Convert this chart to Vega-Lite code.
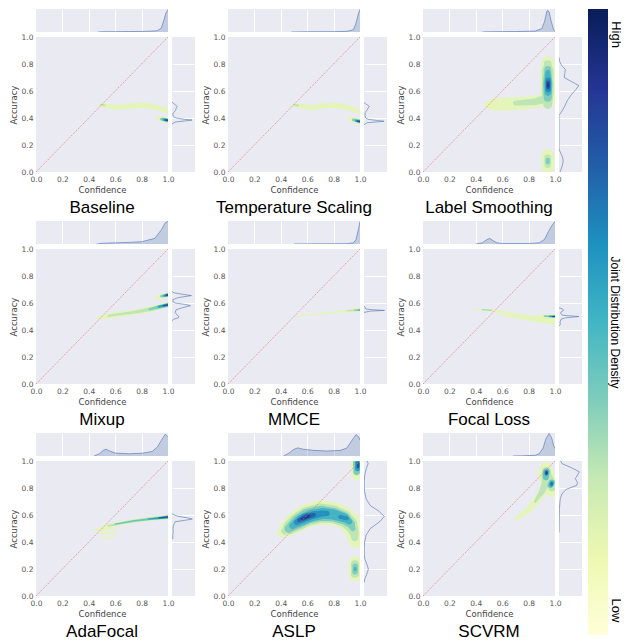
{
"$schema": "https://vega.github.io/schema/vega-lite/v6.json",
"background": "white",
"padding": {"left": 9, "top": 9, "right": 0, "bottom": 0},
"config": {
  "view": {"fill": "#EAEAF2", "stroke": null},
  "axis": {"labelFont": "DejaVu Sans", "labelFontSize": 7.5, "labelColor": "#555555", "titleFont": "DejaVu Sans", "titleFontSize": 8.5, "titleFontWeight": "normal", "titleColor": "#444444", "grid": false, "ticks": false, "domain": false, "labelFlush": false, "labelOverlap": false, "labelPadding": 3, "titlePadding": 3}
},
"datasets": {
"kde": [
{"p":"Baseline","s":"1","l":0.05,"o":1,"c":0.48,"a":0.497,"w":0.02},
{"p":"Baseline","s":"1","l":0.05,"o":2,"c":0.53,"a":0.49,"w":0.035},
{"p":"Baseline","s":"1","l":0.05,"o":3,"c":0.62,"a":0.478,"w":0.038},
{"p":"Baseline","s":"1","l":0.05,"o":4,"c":0.72,"a":0.49,"w":0.04},
{"p":"Baseline","s":"1","l":0.05,"o":5,"c":0.8,"a":0.496,"w":0.042},
{"p":"Baseline","s":"1","l":0.05,"o":6,"c":0.9,"a":0.482,"w":0.04},
{"p":"Baseline","s":"1","l":0.05,"o":7,"c":0.97,"a":0.462,"w":0.035},
{"p":"Baseline","s":"1","l":0.05,"o":8,"c":1.0,"a":0.452,"w":0.03},
{"p":"Baseline","s":"3","l":0.05,"o":1,"c":0.92,"a":0.402,"w":0.025},
{"p":"Baseline","s":"3","l":0.05,"o":2,"c":0.95,"a":0.395,"w":0.04},
{"p":"Baseline","s":"3","l":0.05,"o":3,"c":0.98,"a":0.387,"w":0.042},
{"p":"Baseline","s":"3","l":0.05,"o":4,"c":1.0,"a":0.383,"w":0.04},
{"p":"Baseline","s":"2","l":0.2,"o":1,"c":0.49,"a":0.498,"w":0.012},
{"p":"Baseline","s":"2","l":0.2,"o":2,"c":0.52,"a":0.494,"w":0.016},
{"p":"Baseline","s":"4","l":0.35,"o":1,"c":0.95,"a":0.392,"w":0.02},
{"p":"Baseline","s":"4","l":0.35,"o":2,"c":0.98,"a":0.386,"w":0.028},
{"p":"Baseline","s":"4","l":0.35,"o":3,"c":1.0,"a":0.383,"w":0.028},
{"p":"Baseline","s":"5","l":0.6,"o":1,"c":0.965,"a":0.388,"w":0.015},
{"p":"Baseline","s":"5","l":0.6,"o":2,"c":1.0,"a":0.383,"w":0.02},
{"p":"Baseline","s":"6","l":0.9,"o":1,"c":0.98,"a":0.385,"w":0.01},
{"p":"Baseline","s":"6","l":0.9,"o":2,"c":1.0,"a":0.383,"w":0.012},

{"p":"Temperature Scaling","s":"1","l":0.05,"o":1,"c":0.49,"a":0.497,"w":0.02},
{"p":"Temperature Scaling","s":"1","l":0.05,"o":2,"c":0.54,"a":0.49,"w":0.035},
{"p":"Temperature Scaling","s":"1","l":0.05,"o":3,"c":0.63,"a":0.477,"w":0.038},
{"p":"Temperature Scaling","s":"1","l":0.05,"o":4,"c":0.72,"a":0.49,"w":0.04},
{"p":"Temperature Scaling","s":"1","l":0.05,"o":5,"c":0.79,"a":0.495,"w":0.04},
{"p":"Temperature Scaling","s":"1","l":0.05,"o":6,"c":0.88,"a":0.485,"w":0.04},
{"p":"Temperature Scaling","s":"1","l":0.05,"o":7,"c":0.95,"a":0.465,"w":0.035},
{"p":"Temperature Scaling","s":"1","l":0.05,"o":8,"c":1.0,"a":0.44,"w":0.03},
{"p":"Temperature Scaling","s":"3","l":0.05,"o":1,"c":0.92,"a":0.395,"w":0.025},
{"p":"Temperature Scaling","s":"3","l":0.05,"o":2,"c":0.96,"a":0.385,"w":0.04},
{"p":"Temperature Scaling","s":"3","l":0.05,"o":3,"c":1.0,"a":0.373,"w":0.04},
{"p":"Temperature Scaling","s":"2","l":0.2,"o":1,"c":0.5,"a":0.498,"w":0.012},
{"p":"Temperature Scaling","s":"2","l":0.2,"o":2,"c":0.53,"a":0.494,"w":0.016},
{"p":"Temperature Scaling","s":"4","l":0.35,"o":1,"c":0.95,"a":0.386,"w":0.02},
{"p":"Temperature Scaling","s":"4","l":0.35,"o":2,"c":1.0,"a":0.374,"w":0.028},
{"p":"Temperature Scaling","s":"5","l":0.6,"o":1,"c":0.97,"a":0.38,"w":0.015},
{"p":"Temperature Scaling","s":"5","l":0.6,"o":2,"c":1.0,"a":0.374,"w":0.02},
{"p":"Temperature Scaling","s":"6","l":0.9,"o":1,"c":0.98,"a":0.377,"w":0.01},
{"p":"Temperature Scaling","s":"6","l":0.9,"o":2,"c":1.0,"a":0.374,"w":0.012},

{"p":"Label Smoothing","s":"1","l":0.05,"o":1,"c":0.49,"a":0.495,"w":0.05},
{"p":"Label Smoothing","s":"1","l":0.05,"o":2,"c":0.53,"a":0.5,"w":0.085},
{"p":"Label Smoothing","s":"1","l":0.05,"o":3,"c":0.62,"a":0.503,"w":0.095},
{"p":"Label Smoothing","s":"1","l":0.05,"o":4,"c":0.72,"a":0.508,"w":0.095},
{"p":"Label Smoothing","s":"1","l":0.05,"o":5,"c":0.82,"a":0.515,"w":0.09},
{"p":"Label Smoothing","s":"1","l":0.05,"o":6,"c":0.9,"a":0.53,"w":0.09},
{"p":"Label Smoothing","s":"1","l":0.05,"o":7,"c":0.94,"a":0.56,"w":0.09},
{"p":"Label Smoothing","s":"2","l":0.05,"o":1,"c":0.945,"a":0.52,"w":0.1},
{"p":"Label Smoothing","s":"2","l":0.05,"o":2,"c":0.945,"a":0.6,"w":0.11},
{"p":"Label Smoothing","s":"2","l":0.05,"o":3,"c":0.945,"a":0.7,"w":0.11},
{"p":"Label Smoothing","s":"2","l":0.05,"o":4,"c":0.945,"a":0.8,"w":0.1},
{"p":"Label Smoothing","s":"2","l":0.05,"o":5,"c":0.945,"a":0.815,"w":0.085},
{"p":"Label Smoothing","s":"3","l":0.05,"o":1,"c":0.945,"a":0.035,"w":0.09},
{"p":"Label Smoothing","s":"3","l":0.05,"o":2,"c":0.945,"a":0.125,"w":0.09},
{"p":"Label Smoothing","s":"4","l":0.2,"o":1,"c":0.7,"a":0.51,"w":0.035},
{"p":"Label Smoothing","s":"4","l":0.2,"o":2,"c":0.85,"a":0.52,"w":0.05},
{"p":"Label Smoothing","s":"4","l":0.2,"o":3,"c":0.92,"a":0.54,"w":0.06},
{"p":"Label Smoothing","s":"5","l":0.2,"o":1,"c":0.945,"a":0.5,"w":0.065},
{"p":"Label Smoothing","s":"5","l":0.2,"o":2,"c":0.945,"a":0.6,"w":0.09},
{"p":"Label Smoothing","s":"5","l":0.2,"o":3,"c":0.945,"a":0.75,"w":0.085},
{"p":"Label Smoothing","s":"5","l":0.2,"o":4,"c":0.945,"a":0.8,"w":0.055},
{"p":"Label Smoothing","s":"6","l":0.2,"o":1,"c":0.945,"a":0.055,"w":0.05},
{"p":"Label Smoothing","s":"6","l":0.2,"o":2,"c":0.945,"a":0.105,"w":0.05},
{"p":"Label Smoothing","s":"7","l":0.35,"o":1,"c":0.945,"a":0.55,"w":0.06},
{"p":"Label Smoothing","s":"7","l":0.35,"o":2,"c":0.945,"a":0.65,"w":0.07},
{"p":"Label Smoothing","s":"7","l":0.35,"o":3,"c":0.945,"a":0.76,"w":0.05},
{"p":"Label Smoothing","s":"8","l":0.35,"o":1,"c":0.945,"a":0.07,"w":0.03},
{"p":"Label Smoothing","s":"8","l":0.35,"o":2,"c":0.945,"a":0.09,"w":0.03},
{"p":"Label Smoothing","s":"9","l":0.5,"o":1,"c":0.947,"a":0.59,"w":0.05},
{"p":"Label Smoothing","s":"9","l":0.5,"o":2,"c":0.947,"a":0.66,"w":0.055},
{"p":"Label Smoothing","s":"9","l":0.5,"o":3,"c":0.945,"a":0.74,"w":0.035},
{"p":"Label Smoothing","s":"10","l":0.65,"o":1,"c":0.948,"a":0.61,"w":0.04},
{"p":"Label Smoothing","s":"10","l":0.65,"o":2,"c":0.948,"a":0.68,"w":0.04},
{"p":"Label Smoothing","s":"11","l":0.8,"o":1,"c":0.948,"a":0.625,"w":0.03},
{"p":"Label Smoothing","s":"11","l":0.8,"o":2,"c":0.948,"a":0.665,"w":0.03},
{"p":"Label Smoothing","s":"12","l":0.95,"o":1,"c":0.948,"a":0.635,"w":0.018},
{"p":"Label Smoothing","s":"12","l":0.95,"o":2,"c":0.948,"a":0.655,"w":0.018},

{"p":"Mixup","s":"1","l":0.05,"o":1,"c":0.47,"a":0.49,"w":0.02},
{"p":"Mixup","s":"1","l":0.05,"o":2,"c":0.52,"a":0.5,"w":0.035},
{"p":"Mixup","s":"1","l":0.05,"o":3,"c":0.62,"a":0.515,"w":0.04},
{"p":"Mixup","s":"1","l":0.05,"o":4,"c":0.72,"a":0.527,"w":0.04},
{"p":"Mixup","s":"1","l":0.05,"o":5,"c":0.8,"a":0.54,"w":0.04},
{"p":"Mixup","s":"1","l":0.05,"o":6,"c":0.9,"a":0.562,"w":0.042},
{"p":"Mixup","s":"1","l":0.05,"o":7,"c":0.96,"a":0.578,"w":0.042},
{"p":"Mixup","s":"1","l":0.05,"o":8,"c":1.0,"a":0.587,"w":0.042},
{"p":"Mixup","s":"2","l":0.05,"o":1,"c":0.91,"a":0.638,"w":0.025},
{"p":"Mixup","s":"2","l":0.05,"o":2,"c":0.95,"a":0.648,"w":0.035},
{"p":"Mixup","s":"2","l":0.05,"o":3,"c":1.0,"a":0.66,"w":0.04},
{"p":"Mixup","s":"3","l":0.2,"o":1,"c":0.55,"a":0.505,"w":0.015},
{"p":"Mixup","s":"3","l":0.2,"o":2,"c":0.75,"a":0.532,"w":0.02},
{"p":"Mixup","s":"3","l":0.2,"o":3,"c":0.88,"a":0.557,"w":0.028},
{"p":"Mixup","s":"3","l":0.2,"o":4,"c":1.0,"a":0.587,"w":0.032},
{"p":"Mixup","s":"4","l":0.35,"o":1,"c":0.86,"a":0.553,"w":0.015},
{"p":"Mixup","s":"4","l":0.35,"o":2,"c":0.94,"a":0.573,"w":0.025},
{"p":"Mixup","s":"4","l":0.35,"o":3,"c":1.0,"a":0.587,"w":0.028},
{"p":"Mixup","s":"5","l":0.35,"o":1,"c":0.95,"a":0.65,"w":0.02},
{"p":"Mixup","s":"5","l":0.35,"o":2,"c":1.0,"a":0.66,"w":0.027},
{"p":"Mixup","s":"6","l":0.6,"o":1,"c":0.93,"a":0.572,"w":0.015},
{"p":"Mixup","s":"6","l":0.6,"o":2,"c":1.0,"a":0.586,"w":0.02},
{"p":"Mixup","s":"7","l":0.6,"o":1,"c":0.97,"a":0.654,"w":0.015},
{"p":"Mixup","s":"7","l":0.6,"o":2,"c":1.0,"a":0.66,"w":0.02},
{"p":"Mixup","s":"8","l":0.85,"o":1,"c":0.965,"a":0.58,"w":0.01},
{"p":"Mixup","s":"8","l":0.85,"o":2,"c":1.0,"a":0.586,"w":0.013},
{"p":"Mixup","s":"9","l":0.9,"o":1,"c":0.985,"a":0.656,"w":0.01},
{"p":"Mixup","s":"9","l":0.9,"o":2,"c":1.0,"a":0.66,"w":0.012},

{"p":"MMCE","s":"1","l":0.05,"o":1,"c":0.52,"a":0.504,"w":0.01},
{"p":"MMCE","s":"1","l":0.05,"o":2,"c":0.7,"a":0.52,"w":0.012},
{"p":"MMCE","s":"1","l":0.05,"o":3,"c":0.85,"a":0.535,"w":0.015},
{"p":"MMCE","s":"1","l":0.05,"o":4,"c":0.93,"a":0.543,"w":0.02},
{"p":"MMCE","s":"1","l":0.05,"o":5,"c":0.97,"a":0.548,"w":0.03},
{"p":"MMCE","s":"1","l":0.05,"o":6,"c":1.0,"a":0.552,"w":0.035},
{"p":"MMCE","s":"2","l":0.2,"o":1,"c":0.9,"a":0.542,"w":0.008},
{"p":"MMCE","s":"2","l":0.2,"o":2,"c":0.96,"a":0.547,"w":0.015},
{"p":"MMCE","s":"2","l":0.2,"o":3,"c":1.0,"a":0.55,"w":0.02},
{"p":"MMCE","s":"3","l":0.35,"o":1,"c":0.96,"a":0.547,"w":0.008},
{"p":"MMCE","s":"3","l":0.35,"o":2,"c":1.0,"a":0.548,"w":0.012},
{"p":"MMCE","s":"4","l":0.5,"o":1,"c":0.985,"a":0.547,"w":0.006},
{"p":"MMCE","s":"4","l":0.5,"o":2,"c":1.0,"a":0.547,"w":0.008},

{"p":"Focal Loss","s":"1","l":0.05,"o":1,"c":0.4,"a":0.555,"w":0.012},
{"p":"Focal Loss","s":"1","l":0.05,"o":2,"c":0.5,"a":0.547,"w":0.016},
{"p":"Focal Loss","s":"1","l":0.05,"o":3,"c":0.6,"a":0.532,"w":0.02},
{"p":"Focal Loss","s":"1","l":0.05,"o":4,"c":0.7,"a":0.515,"w":0.02},
{"p":"Focal Loss","s":"1","l":0.05,"o":5,"c":0.8,"a":0.5,"w":0.02},
{"p":"Focal Loss","s":"1","l":0.05,"o":6,"c":0.9,"a":0.49,"w":0.025},
{"p":"Focal Loss","s":"1","l":0.05,"o":7,"c":1.0,"a":0.478,"w":0.03},
{"p":"Focal Loss","s":"2","l":0.05,"o":1,"c":0.6,"a":0.51,"w":0.01},
{"p":"Focal Loss","s":"2","l":0.05,"o":2,"c":0.75,"a":0.49,"w":0.02},
{"p":"Focal Loss","s":"2","l":0.05,"o":3,"c":0.88,"a":0.47,"w":0.03},
{"p":"Focal Loss","s":"2","l":0.05,"o":4,"c":1.0,"a":0.455,"w":0.035},
{"p":"Focal Loss","s":"3","l":0.05,"o":1,"c":0.88,"a":0.507,"w":0.02},
{"p":"Focal Loss","s":"3","l":0.05,"o":2,"c":0.94,"a":0.505,"w":0.025},
{"p":"Focal Loss","s":"3","l":0.05,"o":3,"c":1.0,"a":0.502,"w":0.03},
{"p":"Focal Loss","s":"4","l":0.3,"o":1,"c":0.45,"a":0.55,"w":0.008},
{"p":"Focal Loss","s":"4","l":0.3,"o":2,"c":0.52,"a":0.546,"w":0.008},
{"p":"Focal Loss","s":"5","l":0.35,"o":1,"c":0.92,"a":0.503,"w":0.012},
{"p":"Focal Loss","s":"5","l":0.35,"o":2,"c":1.0,"a":0.5,"w":0.02},
{"p":"Focal Loss","s":"6","l":0.6,"o":1,"c":0.96,"a":0.501,"w":0.01},
{"p":"Focal Loss","s":"6","l":0.6,"o":2,"c":1.0,"a":0.5,"w":0.014},
{"p":"Focal Loss","s":"7","l":0.9,"o":1,"c":0.98,"a":0.5,"w":0.007},
{"p":"Focal Loss","s":"7","l":0.9,"o":2,"c":1.0,"a":0.5,"w":0.009},

{"p":"AdaFocal","s":"1","l":0.05,"o":1,"c":0.46,"a":0.487,"w":0.02},
{"p":"AdaFocal","s":"1","l":0.05,"o":2,"c":0.52,"a":0.508,"w":0.03},
{"p":"AdaFocal","s":"1","l":0.05,"o":3,"c":0.6,"a":0.528,"w":0.032},
{"p":"AdaFocal","s":"1","l":0.05,"o":4,"c":0.7,"a":0.55,"w":0.03},
{"p":"AdaFocal","s":"1","l":0.05,"o":5,"c":0.8,"a":0.564,"w":0.03},
{"p":"AdaFocal","s":"1","l":0.05,"o":6,"c":0.9,"a":0.574,"w":0.032},
{"p":"AdaFocal","s":"1","l":0.05,"o":7,"c":1.0,"a":0.585,"w":0.034},
{"p":"AdaFocal","s":"2","l":0.05,"o":1,"c":0.44,"a":0.487,"w":0.012},
{"p":"AdaFocal","s":"2","l":0.05,"o":2,"c":0.6,"a":0.49,"w":0.012},
{"p":"AdaFocal","s":"3","l":0.05,"o":1,"c":0.48,"a":0.463,"w":0.012},
{"p":"AdaFocal","s":"3","l":0.05,"o":2,"c":0.6,"a":0.466,"w":0.012},
{"p":"AdaFocal","s":"4","l":0.05,"o":1,"c":0.49,"a":0.428,"w":0.012},
{"p":"AdaFocal","s":"4","l":0.05,"o":2,"c":0.59,"a":0.432,"w":0.012},
{"p":"AdaFocal","s":"5","l":0.2,"o":1,"c":0.55,"a":0.52,"w":0.015},
{"p":"AdaFocal","s":"5","l":0.2,"o":2,"c":0.7,"a":0.55,"w":0.02},
{"p":"AdaFocal","s":"5","l":0.2,"o":3,"c":0.85,"a":0.57,"w":0.022},
{"p":"AdaFocal","s":"5","l":0.2,"o":4,"c":1.0,"a":0.585,"w":0.028},
{"p":"AdaFocal","s":"6","l":0.4,"o":1,"c":0.6,"a":0.532,"w":0.01},
{"p":"AdaFocal","s":"6","l":0.4,"o":2,"c":0.75,"a":0.557,"w":0.012},
{"p":"AdaFocal","s":"6","l":0.4,"o":3,"c":0.9,"a":0.574,"w":0.016},
{"p":"AdaFocal","s":"6","l":0.4,"o":4,"c":1.0,"a":0.585,"w":0.022},
{"p":"AdaFocal","s":"7","l":0.6,"o":1,"c":0.85,"a":0.57,"w":0.008},
{"p":"AdaFocal","s":"7","l":0.6,"o":2,"c":0.93,"a":0.577,"w":0.013},
{"p":"AdaFocal","s":"7","l":0.6,"o":3,"c":1.0,"a":0.585,"w":0.017},
{"p":"AdaFocal","s":"8","l":0.85,"o":1,"c":0.93,"a":0.578,"w":0.008},
{"p":"AdaFocal","s":"8","l":0.85,"o":2,"c":1.0,"a":0.585,"w":0.012},

{"p":"ASLP","s":"1","l":0.05,"o":1,"c":0.41,"a":0.47,"w":0.07},
{"p":"ASLP","s":"1","l":0.05,"o":2,"c":0.45,"a":0.5,"w":0.12},
{"p":"ASLP","s":"1","l":0.05,"o":3,"c":0.52,"a":0.55,"w":0.16},
{"p":"ASLP","s":"1","l":0.05,"o":4,"c":0.6,"a":0.595,"w":0.17},
{"p":"ASLP","s":"1","l":0.05,"o":5,"c":0.7,"a":0.62,"w":0.18},
{"p":"ASLP","s":"1","l":0.05,"o":6,"c":0.8,"a":0.61,"w":0.17},
{"p":"ASLP","s":"1","l":0.05,"o":7,"c":0.88,"a":0.58,"w":0.16},
{"p":"ASLP","s":"1","l":0.05,"o":8,"c":0.93,"a":0.53,"w":0.15},
{"p":"ASLP","s":"1","l":0.05,"o":9,"c":0.955,"a":0.46,"w":0.12},
{"p":"ASLP","s":"1","l":0.05,"o":10,"c":0.965,"a":0.4,"w":0.09},
{"p":"ASLP","s":"2","l":0.05,"o":1,"c":0.975,"a":0.9,"w":0.08},
{"p":"ASLP","s":"2","l":0.05,"o":2,"c":0.975,"a":0.99,"w":0.085},
{"p":"ASLP","s":"3","l":0.05,"o":1,"c":0.96,"a":0.15,"w":0.085},
{"p":"ASLP","s":"3","l":0.05,"o":2,"c":0.96,"a":0.25,"w":0.085},
{"p":"ASLP","s":"4","l":0.2,"o":1,"c":0.43,"a":0.48,"w":0.05},
{"p":"ASLP","s":"4","l":0.2,"o":2,"c":0.47,"a":0.51,"w":0.1},
{"p":"ASLP","s":"4","l":0.2,"o":3,"c":0.53,"a":0.55,"w":0.13},
{"p":"ASLP","s":"4","l":0.2,"o":4,"c":0.6,"a":0.59,"w":0.14},
{"p":"ASLP","s":"4","l":0.2,"o":5,"c":0.7,"a":0.615,"w":0.14},
{"p":"ASLP","s":"4","l":0.2,"o":6,"c":0.8,"a":0.605,"w":0.13},
{"p":"ASLP","s":"4","l":0.2,"o":7,"c":0.88,"a":0.575,"w":0.12},
{"p":"ASLP","s":"4","l":0.2,"o":8,"c":0.93,"a":0.53,"w":0.1},
{"p":"ASLP","s":"4","l":0.2,"o":9,"c":0.955,"a":0.47,"w":0.07},
{"p":"ASLP","s":"4","l":0.2,"o":10,"c":0.96,"a":0.43,"w":0.05},
{"p":"ASLP","s":"5","l":0.2,"o":1,"c":0.962,"a":0.165,"w":0.06},
{"p":"ASLP","s":"5","l":0.2,"o":2,"c":0.962,"a":0.235,"w":0.06},
{"p":"ASLP","s":"6","l":0.35,"o":1,"c":0.46,"a":0.5,"w":0.06},
{"p":"ASLP","s":"6","l":0.35,"o":2,"c":0.53,"a":0.55,"w":0.1},
{"p":"ASLP","s":"6","l":0.35,"o":3,"c":0.6,"a":0.59,"w":0.11},
{"p":"ASLP","s":"6","l":0.35,"o":4,"c":0.7,"a":0.613,"w":0.11},
{"p":"ASLP","s":"6","l":0.35,"o":5,"c":0.8,"a":0.603,"w":0.1},
{"p":"ASLP","s":"6","l":0.35,"o":6,"c":0.88,"a":0.575,"w":0.09},
{"p":"ASLP","s":"6","l":0.35,"o":7,"c":0.93,"a":0.535,"w":0.06},
{"p":"ASLP","s":"6","l":0.35,"o":8,"c":0.945,"a":0.5,"w":0.04},
{"p":"ASLP","s":"7","l":0.35,"o":1,"c":0.975,"a":0.92,"w":0.05},
{"p":"ASLP","s":"7","l":0.35,"o":2,"c":0.975,"a":0.99,"w":0.055},
{"p":"ASLP","s":"8","l":0.35,"o":1,"c":0.963,"a":0.18,"w":0.04},
{"p":"ASLP","s":"8","l":0.35,"o":2,"c":0.963,"a":0.22,"w":0.04},
{"p":"ASLP","s":"9","l":0.5,"o":1,"c":0.49,"a":0.52,"w":0.05},
{"p":"ASLP","s":"9","l":0.5,"o":2,"c":0.55,"a":0.56,"w":0.08},
{"p":"ASLP","s":"9","l":0.5,"o":3,"c":0.63,"a":0.595,"w":0.085},
{"p":"ASLP","s":"9","l":0.5,"o":4,"c":0.72,"a":0.612,"w":0.08},
{"p":"ASLP","s":"9","l":0.5,"o":5,"c":0.8,"a":0.603,"w":0.075},
{"p":"ASLP","s":"9","l":0.5,"o":6,"c":0.88,"a":0.58,"w":0.065},
{"p":"ASLP","s":"9","l":0.5,"o":7,"c":0.92,"a":0.55,"w":0.04},
{"p":"ASLP","s":"10","l":0.5,"o":1,"c":0.963,"a":0.195,"w":0.02},
{"p":"ASLP","s":"10","l":0.5,"o":2,"c":0.963,"a":0.205,"w":0.02},
{"p":"ASLP","s":"11","l":0.6,"o":1,"c":0.98,"a":0.94,"w":0.035},
{"p":"ASLP","s":"11","l":0.6,"o":2,"c":0.98,"a":0.985,"w":0.035},
{"p":"ASLP","s":"12","l":0.65,"o":1,"c":0.52,"a":0.545,"w":0.04},
{"p":"ASLP","s":"12","l":0.65,"o":2,"c":0.58,"a":0.58,"w":0.06},
{"p":"ASLP","s":"12","l":0.65,"o":3,"c":0.65,"a":0.6,"w":0.055},
{"p":"ASLP","s":"12","l":0.65,"o":4,"c":0.7,"a":0.61,"w":0.045},
{"p":"ASLP","s":"12","l":0.65,"o":5,"c":0.75,"a":0.612,"w":0.04},
{"p":"ASLP","s":"13","l":0.65,"o":1,"c":0.85,"a":0.585,"w":0.03},
{"p":"ASLP","s":"13","l":0.65,"o":2,"c":0.9,"a":0.575,"w":0.03},
{"p":"ASLP","s":"14","l":0.8,"o":1,"c":0.54,"a":0.56,"w":0.03},
{"p":"ASLP","s":"14","l":0.8,"o":2,"c":0.6,"a":0.59,"w":0.04},
{"p":"ASLP","s":"14","l":0.8,"o":3,"c":0.65,"a":0.6,"w":0.03},
{"p":"ASLP","s":"15","l":0.85,"o":1,"c":0.985,"a":0.955,"w":0.02},
{"p":"ASLP","s":"15","l":0.85,"o":2,"c":0.985,"a":0.98,"w":0.02},
{"p":"ASLP","s":"16","l":0.95,"o":1,"c":0.56,"a":0.57,"w":0.018},
{"p":"ASLP","s":"16","l":0.95,"o":2,"c":0.61,"a":0.592,"w":0.022},

{"p":"SCVRM","s":"1","l":0.05,"o":1,"c":0.7,"a":0.57,"w":0.02},
{"p":"SCVRM","s":"1","l":0.05,"o":2,"c":0.75,"a":0.6,"w":0.035},
{"p":"SCVRM","s":"1","l":0.05,"o":3,"c":0.82,"a":0.66,"w":0.045},
{"p":"SCVRM","s":"1","l":0.05,"o":4,"c":0.87,"a":0.72,"w":0.05},
{"p":"SCVRM","s":"1","l":0.05,"o":5,"c":0.91,"a":0.78,"w":0.06},
{"p":"SCVRM","s":"2","l":0.05,"o":1,"c":0.93,"a":0.945,"w":0.09},
{"p":"SCVRM","s":"2","l":0.05,"o":2,"c":0.93,"a":0.9,"w":0.12},
{"p":"SCVRM","s":"2","l":0.05,"o":3,"c":0.96,"a":0.82,"w":0.11},
{"p":"SCVRM","s":"2","l":0.05,"o":4,"c":0.975,"a":0.78,"w":0.09},
{"p":"SCVRM","s":"3","l":0.2,"o":1,"c":0.85,"a":0.7,"w":0.02},
{"p":"SCVRM","s":"3","l":0.2,"o":2,"c":0.9,"a":0.77,"w":0.04},
{"p":"SCVRM","s":"3","l":0.2,"o":3,"c":0.93,"a":0.84,"w":0.06},
{"p":"SCVRM","s":"3","l":0.2,"o":4,"c":0.935,"a":0.92,"w":0.07},
{"p":"SCVRM","s":"4","l":0.2,"o":1,"c":0.94,"a":0.9,"w":0.06},
{"p":"SCVRM","s":"4","l":0.2,"o":2,"c":0.97,"a":0.83,"w":0.07},
{"p":"SCVRM","s":"4","l":0.2,"o":3,"c":0.975,"a":0.8,"w":0.05},
{"p":"SCVRM","s":"5","l":0.4,"o":1,"c":0.93,"a":0.88,"w":0.045},
{"p":"SCVRM","s":"5","l":0.4,"o":2,"c":0.935,"a":0.92,"w":0.05},
{"p":"SCVRM","s":"6","l":0.4,"o":1,"c":0.965,"a":0.82,"w":0.04},
{"p":"SCVRM","s":"6","l":0.4,"o":2,"c":0.975,"a":0.84,"w":0.045},
{"p":"SCVRM","s":"7","l":0.6,"o":1,"c":0.935,"a":0.905,"w":0.03},
{"p":"SCVRM","s":"7","l":0.6,"o":2,"c":0.935,"a":0.92,"w":0.032},
{"p":"SCVRM","s":"8","l":0.6,"o":1,"c":0.972,"a":0.825,"w":0.03},
{"p":"SCVRM","s":"8","l":0.6,"o":2,"c":0.975,"a":0.835,"w":0.03},
{"p":"SCVRM","s":"9","l":0.75,"o":1,"c":0.975,"a":0.828,"w":0.018},
{"p":"SCVRM","s":"9","l":0.75,"o":2,"c":0.975,"a":0.836,"w":0.018},
{"p":"SCVRM","s":"10","l":0.8,"o":1,"c":0.935,"a":0.905,"w":0.02},
{"p":"SCVRM","s":"10","l":0.8,"o":2,"c":0.935,"a":0.918,"w":0.02},
{"p":"SCVRM","s":"11","l":0.95,"o":1,"c":0.935,"a":0.908,"w":0.01},
{"p":"SCVRM","s":"11","l":0.95,"o":2,"c":0.936,"a":0.915,"w":0.01}
],
"topm": [
{"p":"Baseline","c":0.47,"d":0},{"p":"Baseline","c":0.5,"d":0.01},{"p":"Baseline","c":0.6,"d":0.015},{"p":"Baseline","c":0.7,"d":0.02},{"p":"Baseline","c":0.8,"d":0.025},{"p":"Baseline","c":0.88,"d":0.04},{"p":"Baseline","c":0.92,"d":0.06},{"p":"Baseline","c":0.95,"d":0.18},{"p":"Baseline","c":0.97,"d":0.55},{"p":"Baseline","c":0.985,"d":0.85},{"p":"Baseline","c":1.0,"d":1.0},
{"p":"Temperature Scaling","c":0.48,"d":0},{"p":"Temperature Scaling","c":0.6,"d":0.01},{"p":"Temperature Scaling","c":0.8,"d":0.015},{"p":"Temperature Scaling","c":0.9,"d":0.03},{"p":"Temperature Scaling","c":0.95,"d":0.1},{"p":"Temperature Scaling","c":0.97,"d":0.4},{"p":"Temperature Scaling","c":0.99,"d":0.85},{"p":"Temperature Scaling","c":1.0,"d":1.0},
{"p":"Label Smoothing","c":0.45,"d":0},{"p":"Label Smoothing","c":0.5,"d":0.01},{"p":"Label Smoothing","c":0.7,"d":0.02},{"p":"Label Smoothing","c":0.85,"d":0.04},{"p":"Label Smoothing","c":0.9,"d":0.15},{"p":"Label Smoothing","c":0.92,"d":0.45},{"p":"Label Smoothing","c":0.94,"d":0.95},{"p":"Label Smoothing","c":0.955,"d":0.9},{"p":"Label Smoothing","c":0.97,"d":0.5},{"p":"Label Smoothing","c":0.99,"d":0.1},{"p":"Label Smoothing","c":1.0,"d":0.02},
{"p":"Mixup","c":0.46,"d":0},{"p":"Mixup","c":0.5,"d":0.03},{"p":"Mixup","c":0.6,"d":0.05},{"p":"Mixup","c":0.7,"d":0.07},{"p":"Mixup","c":0.8,"d":0.1},{"p":"Mixup","c":0.9,"d":0.25},{"p":"Mixup","c":0.95,"d":0.63},{"p":"Mixup","c":0.98,"d":0.95},{"p":"Mixup","c":1.0,"d":1.0},
{"p":"MMCE","c":0.5,"d":0},{"p":"MMCE","c":0.6,"d":0.005},{"p":"MMCE","c":0.8,"d":0.01},{"p":"MMCE","c":0.9,"d":0.015},{"p":"MMCE","c":0.95,"d":0.05},{"p":"MMCE","c":0.97,"d":0.2},{"p":"MMCE","c":0.99,"d":0.7},{"p":"MMCE","c":1.0,"d":1.0},
{"p":"Focal Loss","c":0.4,"d":0},{"p":"Focal Loss","c":0.45,"d":0.05},{"p":"Focal Loss","c":0.48,"d":0.18},{"p":"Focal Loss","c":0.505,"d":0.25},{"p":"Focal Loss","c":0.53,"d":0.15},{"p":"Focal Loss","c":0.56,"d":0.05},{"p":"Focal Loss","c":0.6,"d":0.02},{"p":"Focal Loss","c":0.8,"d":0.02},{"p":"Focal Loss","c":0.88,"d":0.05},{"p":"Focal Loss","c":0.92,"d":0.2},{"p":"Focal Loss","c":0.95,"d":0.55},{"p":"Focal Loss","c":0.98,"d":0.85},{"p":"Focal Loss","c":1.0,"d":1.0},
{"p":"AdaFocal","c":0.44,"d":0},{"p":"AdaFocal","c":0.48,"d":0.1},{"p":"AdaFocal","c":0.51,"d":0.25},{"p":"AdaFocal","c":0.53,"d":0.3},{"p":"AdaFocal","c":0.56,"d":0.22},{"p":"AdaFocal","c":0.6,"d":0.13},{"p":"AdaFocal","c":0.7,"d":0.1},{"p":"AdaFocal","c":0.8,"d":0.12},{"p":"AdaFocal","c":0.88,"d":0.2},{"p":"AdaFocal","c":0.92,"d":0.4},{"p":"AdaFocal","c":0.95,"d":0.7},{"p":"AdaFocal","c":0.98,"d":0.97},{"p":"AdaFocal","c":1.0,"d":0.85},
{"p":"ASLP","c":0.42,"d":0},{"p":"ASLP","c":0.46,"d":0.12},{"p":"ASLP","c":0.5,"d":0.3},{"p":"ASLP","c":0.53,"d":0.36},{"p":"ASLP","c":0.57,"d":0.3},{"p":"ASLP","c":0.65,"d":0.25},{"p":"ASLP","c":0.75,"d":0.22},{"p":"ASLP","c":0.85,"d":0.25},{"p":"ASLP","c":0.9,"d":0.35},{"p":"ASLP","c":0.94,"d":0.7},{"p":"ASLP","c":0.97,"d":0.95},{"p":"ASLP","c":0.99,"d":0.85},{"p":"ASLP","c":1.0,"d":0.7},
{"p":"SCVRM","c":0.68,"d":0},{"p":"SCVRM","c":0.75,"d":0.01},{"p":"SCVRM","c":0.85,"d":0.03},{"p":"SCVRM","c":0.88,"d":0.1},{"p":"SCVRM","c":0.91,"d":0.35},{"p":"SCVRM","c":0.93,"d":0.75},{"p":"SCVRM","c":0.955,"d":1.0},{"p":"SCVRM","c":0.975,"d":0.8},{"p":"SCVRM","c":0.99,"d":0.45},{"p":"SCVRM","c":1.0,"d":0.33}
],
"rightm": [
{"p":"Baseline","a":0.355,"d":0},{"p":"Baseline","a":0.37,"d":0.15},{"p":"Baseline","a":0.38,"d":0.7},{"p":"Baseline","a":0.385,"d":0.96},{"p":"Baseline","a":0.39,"d":0.6},{"p":"Baseline","a":0.4,"d":0.2},{"p":"Baseline","a":0.41,"d":0.08},{"p":"Baseline","a":0.42,"d":0.05},{"p":"Baseline","a":0.43,"d":0.04},{"p":"Baseline","a":0.44,"d":0.08},{"p":"Baseline","a":0.46,"d":0.18},{"p":"Baseline","a":0.475,"d":0.2},{"p":"Baseline","a":0.485,"d":0.26},{"p":"Baseline","a":0.495,"d":0.18},{"p":"Baseline","a":0.505,"d":0.1},{"p":"Baseline","a":0.515,"d":0.02},{"p":"Baseline","a":0.52,"d":0},
{"p":"Temperature Scaling","a":0.35,"d":0},{"p":"Temperature Scaling","a":0.365,"d":0.15},{"p":"Temperature Scaling","a":0.372,"d":0.7},{"p":"Temperature Scaling","a":0.376,"d":0.96},{"p":"Temperature Scaling","a":0.382,"d":0.6},{"p":"Temperature Scaling","a":0.39,"d":0.2},{"p":"Temperature Scaling","a":0.4,"d":0.08},{"p":"Temperature Scaling","a":0.42,"d":0.05},{"p":"Temperature Scaling","a":0.44,"d":0.06},{"p":"Temperature Scaling","a":0.46,"d":0.15},{"p":"Temperature Scaling","a":0.475,"d":0.2},{"p":"Temperature Scaling","a":0.485,"d":0.26},{"p":"Temperature Scaling","a":0.495,"d":0.18},{"p":"Temperature Scaling","a":0.505,"d":0.08},{"p":"Temperature Scaling","a":0.515,"d":0},
{"p":"Label Smoothing","a":0.0,"d":0.05},{"p":"Label Smoothing","a":0.03,"d":0.12},{"p":"Label Smoothing","a":0.06,"d":0.18},{"p":"Label Smoothing","a":0.086,"d":0.2},{"p":"Label Smoothing","a":0.11,"d":0.17},{"p":"Label Smoothing","a":0.14,"d":0.08},{"p":"Label Smoothing","a":0.17,"d":0},{"p":"Label Smoothing","a":0.42,"d":0},{"p":"Label Smoothing","a":0.44,"d":0.1},{"p":"Label Smoothing","a":0.48,"d":0.25},{"p":"Label Smoothing","a":0.53,"d":0.4},{"p":"Label Smoothing","a":0.575,"d":0.6},{"p":"Label Smoothing","a":0.61,"d":0.8},{"p":"Label Smoothing","a":0.64,"d":0.95},{"p":"Label Smoothing","a":0.67,"d":0.6},{"p":"Label Smoothing","a":0.7,"d":0.25},{"p":"Label Smoothing","a":0.73,"d":0.28},{"p":"Label Smoothing","a":0.76,"d":0.3},{"p":"Label Smoothing","a":0.79,"d":0.12},{"p":"Label Smoothing","a":0.82,"d":0.03},{"p":"Label Smoothing","a":0.85,"d":0},
{"p":"Mixup","a":0.47,"d":0},{"p":"Mixup","a":0.48,"d":0.08},{"p":"Mixup","a":0.49,"d":0.3},{"p":"Mixup","a":0.5,"d":0.33},{"p":"Mixup","a":0.51,"d":0.25},{"p":"Mixup","a":0.53,"d":0.15},{"p":"Mixup","a":0.55,"d":0.2},{"p":"Mixup","a":0.565,"d":0.5},{"p":"Mixup","a":0.58,"d":0.88},{"p":"Mixup","a":0.59,"d":0.6},{"p":"Mixup","a":0.6,"d":0.15},{"p":"Mixup","a":0.61,"d":0.05},{"p":"Mixup","a":0.625,"d":0.04},{"p":"Mixup","a":0.64,"d":0.3},{"p":"Mixup","a":0.655,"d":0.93},{"p":"Mixup","a":0.665,"d":0.5},{"p":"Mixup","a":0.675,"d":0.1},{"p":"Mixup","a":0.685,"d":0},
{"p":"MMCE","a":0.53,"d":0},{"p":"MMCE","a":0.54,"d":0.3},{"p":"MMCE","a":0.545,"d":0.98},{"p":"MMCE","a":0.55,"d":0.4},{"p":"MMCE","a":0.555,"d":0.1},{"p":"MMCE","a":0.56,"d":0.06},{"p":"MMCE","a":0.57,"d":0.05},{"p":"MMCE","a":0.575,"d":0},
{"p":"Focal Loss","a":0.43,"d":0},{"p":"Focal Loss","a":0.44,"d":0.06},{"p":"Focal Loss","a":0.46,"d":0.05},{"p":"Focal Loss","a":0.48,"d":0.1},{"p":"Focal Loss","a":0.49,"d":0.3},{"p":"Focal Loss","a":0.5,"d":0.95},{"p":"Focal Loss","a":0.505,"d":0.5},{"p":"Focal Loss","a":0.51,"d":0.15},{"p":"Focal Loss","a":0.52,"d":0.1},{"p":"Focal Loss","a":0.53,"d":0.08},{"p":"Focal Loss","a":0.545,"d":0.22},{"p":"Focal Loss","a":0.555,"d":0.18},{"p":"Focal Loss","a":0.565,"d":0},
{"p":"AdaFocal","a":0.42,"d":0},{"p":"AdaFocal","a":0.43,"d":0.05},{"p":"AdaFocal","a":0.45,"d":0.03},{"p":"AdaFocal","a":0.47,"d":0.06},{"p":"AdaFocal","a":0.49,"d":0.05},{"p":"AdaFocal","a":0.52,"d":0.06},{"p":"AdaFocal","a":0.55,"d":0.15},{"p":"AdaFocal","a":0.56,"d":0.6},{"p":"AdaFocal","a":0.57,"d":0.97},{"p":"AdaFocal","a":0.58,"d":0.7},{"p":"AdaFocal","a":0.59,"d":0.3},{"p":"AdaFocal","a":0.6,"d":0.1},{"p":"AdaFocal","a":0.61,"d":0},
{"p":"ASLP","a":0.1,"d":0},{"p":"ASLP","a":0.13,"d":0.05},{"p":"ASLP","a":0.17,"d":0.15},{"p":"ASLP","a":0.2,"d":0.21},{"p":"ASLP","a":0.23,"d":0.15},{"p":"ASLP","a":0.27,"d":0.05},{"p":"ASLP","a":0.3,"d":0.02},{"p":"ASLP","a":0.35,"d":0.01},{"p":"ASLP","a":0.4,"d":0.03},{"p":"ASLP","a":0.45,"d":0.1},{"p":"ASLP","a":0.5,"d":0.3},{"p":"ASLP","a":0.55,"d":0.75},{"p":"ASLP","a":0.59,"d":0.97},{"p":"ASLP","a":0.63,"d":0.7},{"p":"ASLP","a":0.67,"d":0.3},{"p":"ASLP","a":0.72,"d":0.1},{"p":"ASLP","a":0.78,"d":0.02},{"p":"ASLP","a":0.85,"d":0.01},{"p":"ASLP","a":0.9,"d":0.04},{"p":"ASLP","a":0.95,"d":0.12},{"p":"ASLP","a":0.98,"d":0.2},{"p":"ASLP","a":1.0,"d":0.15},
{"p":"SCVRM","a":0.47,"d":0},{"p":"SCVRM","a":0.55,"d":0.01},{"p":"SCVRM","a":0.65,"d":0.02},{"p":"SCVRM","a":0.72,"d":0.06},{"p":"SCVRM","a":0.76,"d":0.15},{"p":"SCVRM","a":0.79,"d":0.35},{"p":"SCVRM","a":0.82,"d":0.85},{"p":"SCVRM","a":0.84,"d":0.88},{"p":"SCVRM","a":0.87,"d":0.78},{"p":"SCVRM","a":0.9,"d":0.9},{"p":"SCVRM","a":0.92,"d":0.97},{"p":"SCVRM","a":0.95,"d":0.6},{"p":"SCVRM","a":0.98,"d":0.15},{"p":"SCVRM","a":1.0,"d":0.08}
]
},
"hconcat": [
{
"columns": 8,
"spacing": {"row": 5, "column": 4},
"bounds": "flush",
"concat": [
 {"width":132,"height":23,"data":{"name":"topm"},"transform":[{"filter":{"field":"p","equal":"Baseline"}}],"mark":{"type":"area","color":"#4C72B0","fillOpacity":0.25,"clip":true,"line":{"color":"#4C72B0","strokeWidth":0.8,"strokeOpacity":0.75}},"encoding":{"x":{"field":"c","type":"quantitative","scale":{"domain":[0,1]},"axis":{"values":[0.2,0.4,0.6,0.8],"grid":true,"gridColor":"white","labels":false,"title":null}},"y":{"field":"d","type":"quantitative","scale":{"domain":[0,1.02]},"axis":null}}},
 {"width":1,"height":1,"view":{"fill":null},"data":{"values":[]},"mark":"point"},
 {"width":25,"height":1,"view":{"fill":null},"data":{"values":[]},"mark":"point"},
 {"width":132,"height":23,"data":{"name":"topm"},"transform":[{"filter":{"field":"p","equal":"Temperature Scaling"}}],"mark":{"type":"area","color":"#4C72B0","fillOpacity":0.25,"clip":true,"line":{"color":"#4C72B0","strokeWidth":0.8,"strokeOpacity":0.75}},"encoding":{"x":{"field":"c","type":"quantitative","scale":{"domain":[0,1]},"axis":{"values":[0.2,0.4,0.6,0.8],"grid":true,"gridColor":"white","labels":false,"title":null}},"y":{"field":"d","type":"quantitative","scale":{"domain":[0,1.02]},"axis":null}}},
 {"width":1,"height":1,"view":{"fill":null},"data":{"values":[]},"mark":"point"},
 {"width":28,"height":1,"view":{"fill":null},"data":{"values":[]},"mark":"point"},
 {"width":132,"height":23,"data":{"name":"topm"},"transform":[{"filter":{"field":"p","equal":"Label Smoothing"}}],"mark":{"type":"area","color":"#4C72B0","fillOpacity":0.25,"clip":true,"line":{"color":"#4C72B0","strokeWidth":0.8,"strokeOpacity":0.75}},"encoding":{"x":{"field":"c","type":"quantitative","scale":{"domain":[0,1]},"axis":{"values":[0.2,0.4,0.6,0.8],"grid":true,"gridColor":"white","labels":false,"title":null}},"y":{"field":"d","type":"quantitative","scale":{"domain":[0,1.02]},"axis":null}}},
 {"width":1,"height":1,"view":{"fill":null},"data":{"values":[]},"mark":"point"},

 {"width":132,"height":135,"title":{"text":"Baseline","orient":"bottom","frame":"group","anchor":"middle","fontSize":17,"font":"Liberation Sans","fontWeight":"normal","color":"#000000","offset":6},
  "layer":[
   {"data":{"name":"kde"},"transform":[{"filter":{"field":"p","equal":"Baseline"}}],"mark":{"type":"trail","clip":true},
    "encoding":{"x":{"field":"c","type":"quantitative","scale":{"domain":[0,1]},"axis":{"title":"Confidence","values":[0,0.2,0.4,0.6,0.8,1],"format":".1f","labelOverlap":false}},"y":{"field":"a","type":"quantitative","scale":{"domain":[0,1]},"axis":{"title":"Accuracy","values":[0,0.2,0.4,0.6,0.8,1],"format":".1f","labelOverlap":false}},"size":{"field":"w","type":"quantitative","scale":{"domain":[0,1],"range":[0,135]},"legend":null},"color":{"field":"l","type":"quantitative","scale":{"scheme":"yellowgreenblue","domain":[0,1]},"legend":null},"detail":{"field":"s","type":"nominal"},"order":{"field":"o","type":"quantitative"}}},
   {"data":{"values":[{}]},"mark":{"type":"rule","color":"#e07878","strokeWidth":0.8,"strokeDash":[1.2,1.2]},"encoding":{"x":{"datum":0,"type":"quantitative","axis":{"title":"Confidence","values":[0,0.2,0.4,0.6,0.8,1],"format":".1f","labelOverlap":false}},"y":{"datum":0,"type":"quantitative","axis":{"title":"Accuracy","values":[0,0.2,0.4,0.6,0.8,1],"format":".1f","labelOverlap":false}},"x2":{"datum":1},"y2":{"datum":1}}}]},
 {"width":23,"height":135,"data":{"name":"rightm"},"transform":[{"filter":{"field":"p","equal":"Baseline"}}],
  "layer":[
   {"mark":{"type":"area","orient":"horizontal","color":"#4C72B0","fillOpacity":0.25,"clip":true},"encoding":{"y":{"field":"a","type":"quantitative","scale":{"domain":[0,1]},"axis":{"values":[0.2,0.4,0.6,0.8],"grid":true,"gridColor":"white","labels":false,"title":null}},"x":{"field":"d","type":"quantitative","scale":{"domain":[0,1.02]},"axis":null},"order":{"field":"a","type":"quantitative"}}},
   {"mark":{"type":"line","color":"#4C72B0","strokeWidth":0.8,"strokeOpacity":0.75,"clip":true},"encoding":{"y":{"field":"a","type":"quantitative"},"x":{"field":"d","type":"quantitative"},"order":{"field":"a","type":"quantitative"}}}]},
 {"width":1,"height":1,"view":{"fill":null},"data":{"values":[]},"mark":"point"},
 {"width":132,"height":135,"title":{"text":"Temperature Scaling","orient":"bottom","frame":"group","anchor":"middle","fontSize":17,"font":"Liberation Sans","fontWeight":"normal","color":"#000000","offset":6},
  "layer":[
   {"data":{"name":"kde"},"transform":[{"filter":{"field":"p","equal":"Temperature Scaling"}}],"mark":{"type":"trail","clip":true},
    "encoding":{"x":{"field":"c","type":"quantitative","scale":{"domain":[0,1]},"axis":{"title":"Confidence","values":[0,0.2,0.4,0.6,0.8,1],"format":".1f","labelOverlap":false}},"y":{"field":"a","type":"quantitative","scale":{"domain":[0,1]},"axis":{"title":"Accuracy","values":[0,0.2,0.4,0.6,0.8,1],"format":".1f","labelOverlap":false}},"size":{"field":"w","type":"quantitative","scale":{"domain":[0,1],"range":[0,135]},"legend":null},"color":{"field":"l","type":"quantitative","scale":{"scheme":"yellowgreenblue","domain":[0,1]},"legend":null},"detail":{"field":"s","type":"nominal"},"order":{"field":"o","type":"quantitative"}}},
   {"data":{"values":[{}]},"mark":{"type":"rule","color":"#e07878","strokeWidth":0.8,"strokeDash":[1.2,1.2]},"encoding":{"x":{"datum":0,"type":"quantitative","axis":{"title":"Confidence","values":[0,0.2,0.4,0.6,0.8,1],"format":".1f","labelOverlap":false}},"y":{"datum":0,"type":"quantitative","axis":{"title":"Accuracy","values":[0,0.2,0.4,0.6,0.8,1],"format":".1f","labelOverlap":false}},"x2":{"datum":1},"y2":{"datum":1}}}]},
 {"width":23,"height":135,"data":{"name":"rightm"},"transform":[{"filter":{"field":"p","equal":"Temperature Scaling"}}],
  "layer":[
   {"mark":{"type":"area","orient":"horizontal","color":"#4C72B0","fillOpacity":0.25,"clip":true},"encoding":{"y":{"field":"a","type":"quantitative","scale":{"domain":[0,1]},"axis":{"values":[0.2,0.4,0.6,0.8],"grid":true,"gridColor":"white","labels":false,"title":null}},"x":{"field":"d","type":"quantitative","scale":{"domain":[0,1.02]},"axis":null},"order":{"field":"a","type":"quantitative"}}},
   {"mark":{"type":"line","color":"#4C72B0","strokeWidth":0.8,"strokeOpacity":0.75,"clip":true},"encoding":{"y":{"field":"a","type":"quantitative"},"x":{"field":"d","type":"quantitative"},"order":{"field":"a","type":"quantitative"}}}]},
 {"width":1,"height":1,"view":{"fill":null},"data":{"values":[]},"mark":"point"},
 {"width":132,"height":135,"title":{"text":"Label Smoothing","orient":"bottom","frame":"group","anchor":"middle","fontSize":17,"font":"Liberation Sans","fontWeight":"normal","color":"#000000","offset":6},
  "layer":[
   {"data":{"name":"kde"},"transform":[{"filter":{"field":"p","equal":"Label Smoothing"}}],"mark":{"type":"trail","clip":true},
    "encoding":{"x":{"field":"c","type":"quantitative","scale":{"domain":[0,1]},"axis":{"title":"Confidence","values":[0,0.2,0.4,0.6,0.8,1],"format":".1f","labelOverlap":false}},"y":{"field":"a","type":"quantitative","scale":{"domain":[0,1]},"axis":{"title":"Accuracy","values":[0,0.2,0.4,0.6,0.8,1],"format":".1f","labelOverlap":false}},"size":{"field":"w","type":"quantitative","scale":{"domain":[0,1],"range":[0,135]},"legend":null},"color":{"field":"l","type":"quantitative","scale":{"scheme":"yellowgreenblue","domain":[0,1]},"legend":null},"detail":{"field":"s","type":"nominal"},"order":{"field":"o","type":"quantitative"}}},
   {"data":{"values":[{}]},"mark":{"type":"rule","color":"#e07878","strokeWidth":0.8,"strokeDash":[1.2,1.2]},"encoding":{"x":{"datum":0,"type":"quantitative","axis":{"title":"Confidence","values":[0,0.2,0.4,0.6,0.8,1],"format":".1f","labelOverlap":false}},"y":{"datum":0,"type":"quantitative","axis":{"title":"Accuracy","values":[0,0.2,0.4,0.6,0.8,1],"format":".1f","labelOverlap":false}},"x2":{"datum":1},"y2":{"datum":1}}}]},
 {"width":23,"height":135,"data":{"name":"rightm"},"transform":[{"filter":{"field":"p","equal":"Label Smoothing"}}],
  "layer":[
   {"mark":{"type":"area","orient":"horizontal","color":"#4C72B0","fillOpacity":0.25,"clip":true},"encoding":{"y":{"field":"a","type":"quantitative","scale":{"domain":[0,1]},"axis":{"values":[0.2,0.4,0.6,0.8],"grid":true,"gridColor":"white","labels":false,"title":null}},"x":{"field":"d","type":"quantitative","scale":{"domain":[0,1.02]},"axis":null},"order":{"field":"a","type":"quantitative"}}},
   {"mark":{"type":"line","color":"#4C72B0","strokeWidth":0.8,"strokeOpacity":0.75,"clip":true},"encoding":{"y":{"field":"a","type":"quantitative"},"x":{"field":"d","type":"quantitative"},"order":{"field":"a","type":"quantitative"}}}]},

 {"width":1,"height":39,"view":{"fill":null},"data":{"values":[]},"mark":"point"},
 {"width":1,"height":1,"view":{"fill":null},"data":{"values":[]},"mark":"point"},
 {"width":1,"height":1,"view":{"fill":null},"data":{"values":[]},"mark":"point"},
 {"width":1,"height":1,"view":{"fill":null},"data":{"values":[]},"mark":"point"},
 {"width":1,"height":1,"view":{"fill":null},"data":{"values":[]},"mark":"point"},
 {"width":1,"height":1,"view":{"fill":null},"data":{"values":[]},"mark":"point"},
 {"width":1,"height":1,"view":{"fill":null},"data":{"values":[]},"mark":"point"},
 {"width":1,"height":1,"view":{"fill":null},"data":{"values":[]},"mark":"point"},

 {"width":132,"height":23,"data":{"name":"topm"},"transform":[{"filter":{"field":"p","equal":"Mixup"}}],"mark":{"type":"area","color":"#4C72B0","fillOpacity":0.25,"clip":true,"line":{"color":"#4C72B0","strokeWidth":0.8,"strokeOpacity":0.75}},"encoding":{"x":{"field":"c","type":"quantitative","scale":{"domain":[0,1]},"axis":{"values":[0.2,0.4,0.6,0.8],"grid":true,"gridColor":"white","labels":false,"title":null}},"y":{"field":"d","type":"quantitative","scale":{"domain":[0,1.02]},"axis":null}}},
 {"width":1,"height":1,"view":{"fill":null},"data":{"values":[]},"mark":"point"},
 {"width":1,"height":1,"view":{"fill":null},"data":{"values":[]},"mark":"point"},
 {"width":132,"height":23,"data":{"name":"topm"},"transform":[{"filter":{"field":"p","equal":"MMCE"}}],"mark":{"type":"area","color":"#4C72B0","fillOpacity":0.25,"clip":true,"line":{"color":"#4C72B0","strokeWidth":0.8,"strokeOpacity":0.75}},"encoding":{"x":{"field":"c","type":"quantitative","scale":{"domain":[0,1]},"axis":{"values":[0.2,0.4,0.6,0.8],"grid":true,"gridColor":"white","labels":false,"title":null}},"y":{"field":"d","type":"quantitative","scale":{"domain":[0,1.02]},"axis":null}}},
 {"width":1,"height":1,"view":{"fill":null},"data":{"values":[]},"mark":"point"},
 {"width":1,"height":1,"view":{"fill":null},"data":{"values":[]},"mark":"point"},
 {"width":132,"height":23,"data":{"name":"topm"},"transform":[{"filter":{"field":"p","equal":"Focal Loss"}}],"mark":{"type":"area","color":"#4C72B0","fillOpacity":0.25,"clip":true,"line":{"color":"#4C72B0","strokeWidth":0.8,"strokeOpacity":0.75}},"encoding":{"x":{"field":"c","type":"quantitative","scale":{"domain":[0,1]},"axis":{"values":[0.2,0.4,0.6,0.8],"grid":true,"gridColor":"white","labels":false,"title":null}},"y":{"field":"d","type":"quantitative","scale":{"domain":[0,1.02]},"axis":null}}},
 {"width":1,"height":1,"view":{"fill":null},"data":{"values":[]},"mark":"point"},

 {"width":132,"height":135,"title":{"text":"Mixup","orient":"bottom","frame":"group","anchor":"middle","fontSize":17,"font":"Liberation Sans","fontWeight":"normal","color":"#000000","offset":6},
  "layer":[
   {"data":{"name":"kde"},"transform":[{"filter":{"field":"p","equal":"Mixup"}}],"mark":{"type":"trail","clip":true},
    "encoding":{"x":{"field":"c","type":"quantitative","scale":{"domain":[0,1]},"axis":{"title":"Confidence","values":[0,0.2,0.4,0.6,0.8,1],"format":".1f","labelOverlap":false}},"y":{"field":"a","type":"quantitative","scale":{"domain":[0,1]},"axis":{"title":"Accuracy","values":[0,0.2,0.4,0.6,0.8,1],"format":".1f","labelOverlap":false}},"size":{"field":"w","type":"quantitative","scale":{"domain":[0,1],"range":[0,135]},"legend":null},"color":{"field":"l","type":"quantitative","scale":{"scheme":"yellowgreenblue","domain":[0,1]},"legend":null},"detail":{"field":"s","type":"nominal"},"order":{"field":"o","type":"quantitative"}}},
   {"data":{"values":[{}]},"mark":{"type":"rule","color":"#e07878","strokeWidth":0.8,"strokeDash":[1.2,1.2]},"encoding":{"x":{"datum":0,"type":"quantitative","axis":{"title":"Confidence","values":[0,0.2,0.4,0.6,0.8,1],"format":".1f","labelOverlap":false}},"y":{"datum":0,"type":"quantitative","axis":{"title":"Accuracy","values":[0,0.2,0.4,0.6,0.8,1],"format":".1f","labelOverlap":false}},"x2":{"datum":1},"y2":{"datum":1}}}]},
 {"width":23,"height":135,"data":{"name":"rightm"},"transform":[{"filter":{"field":"p","equal":"Mixup"}}],
  "layer":[
   {"mark":{"type":"area","orient":"horizontal","color":"#4C72B0","fillOpacity":0.25,"clip":true},"encoding":{"y":{"field":"a","type":"quantitative","scale":{"domain":[0,1]},"axis":{"values":[0.2,0.4,0.6,0.8],"grid":true,"gridColor":"white","labels":false,"title":null}},"x":{"field":"d","type":"quantitative","scale":{"domain":[0,1.02]},"axis":null},"order":{"field":"a","type":"quantitative"}}},
   {"mark":{"type":"line","color":"#4C72B0","strokeWidth":0.8,"strokeOpacity":0.75,"clip":true},"encoding":{"y":{"field":"a","type":"quantitative"},"x":{"field":"d","type":"quantitative"},"order":{"field":"a","type":"quantitative"}}}]},
 {"width":1,"height":1,"view":{"fill":null},"data":{"values":[]},"mark":"point"},
 {"width":132,"height":135,"title":{"text":"MMCE","orient":"bottom","frame":"group","anchor":"middle","fontSize":17,"font":"Liberation Sans","fontWeight":"normal","color":"#000000","offset":6},
  "layer":[
   {"data":{"name":"kde"},"transform":[{"filter":{"field":"p","equal":"MMCE"}}],"mark":{"type":"trail","clip":true},
    "encoding":{"x":{"field":"c","type":"quantitative","scale":{"domain":[0,1]},"axis":{"title":"Confidence","values":[0,0.2,0.4,0.6,0.8,1],"format":".1f","labelOverlap":false}},"y":{"field":"a","type":"quantitative","scale":{"domain":[0,1]},"axis":{"title":"Accuracy","values":[0,0.2,0.4,0.6,0.8,1],"format":".1f","labelOverlap":false}},"size":{"field":"w","type":"quantitative","scale":{"domain":[0,1],"range":[0,135]},"legend":null},"color":{"field":"l","type":"quantitative","scale":{"scheme":"yellowgreenblue","domain":[0,1]},"legend":null},"detail":{"field":"s","type":"nominal"},"order":{"field":"o","type":"quantitative"}}},
   {"data":{"values":[{}]},"mark":{"type":"rule","color":"#e07878","strokeWidth":0.8,"strokeDash":[1.2,1.2]},"encoding":{"x":{"datum":0,"type":"quantitative","axis":{"title":"Confidence","values":[0,0.2,0.4,0.6,0.8,1],"format":".1f","labelOverlap":false}},"y":{"datum":0,"type":"quantitative","axis":{"title":"Accuracy","values":[0,0.2,0.4,0.6,0.8,1],"format":".1f","labelOverlap":false}},"x2":{"datum":1},"y2":{"datum":1}}}]},
 {"width":23,"height":135,"data":{"name":"rightm"},"transform":[{"filter":{"field":"p","equal":"MMCE"}}],
  "layer":[
   {"mark":{"type":"area","orient":"horizontal","color":"#4C72B0","fillOpacity":0.25,"clip":true},"encoding":{"y":{"field":"a","type":"quantitative","scale":{"domain":[0,1]},"axis":{"values":[0.2,0.4,0.6,0.8],"grid":true,"gridColor":"white","labels":false,"title":null}},"x":{"field":"d","type":"quantitative","scale":{"domain":[0,1.02]},"axis":null},"order":{"field":"a","type":"quantitative"}}},
   {"mark":{"type":"line","color":"#4C72B0","strokeWidth":0.8,"strokeOpacity":0.75,"clip":true},"encoding":{"y":{"field":"a","type":"quantitative"},"x":{"field":"d","type":"quantitative"},"order":{"field":"a","type":"quantitative"}}}]},
 {"width":1,"height":1,"view":{"fill":null},"data":{"values":[]},"mark":"point"},
 {"width":132,"height":135,"title":{"text":"Focal Loss","orient":"bottom","frame":"group","anchor":"middle","fontSize":17,"font":"Liberation Sans","fontWeight":"normal","color":"#000000","offset":6},
  "layer":[
   {"data":{"name":"kde"},"transform":[{"filter":{"field":"p","equal":"Focal Loss"}}],"mark":{"type":"trail","clip":true},
    "encoding":{"x":{"field":"c","type":"quantitative","scale":{"domain":[0,1]},"axis":{"title":"Confidence","values":[0,0.2,0.4,0.6,0.8,1],"format":".1f","labelOverlap":false}},"y":{"field":"a","type":"quantitative","scale":{"domain":[0,1]},"axis":{"title":"Accuracy","values":[0,0.2,0.4,0.6,0.8,1],"format":".1f","labelOverlap":false}},"size":{"field":"w","type":"quantitative","scale":{"domain":[0,1],"range":[0,135]},"legend":null},"color":{"field":"l","type":"quantitative","scale":{"scheme":"yellowgreenblue","domain":[0,1]},"legend":null},"detail":{"field":"s","type":"nominal"},"order":{"field":"o","type":"quantitative"}}},
   {"data":{"values":[{}]},"mark":{"type":"rule","color":"#e07878","strokeWidth":0.8,"strokeDash":[1.2,1.2]},"encoding":{"x":{"datum":0,"type":"quantitative","axis":{"title":"Confidence","values":[0,0.2,0.4,0.6,0.8,1],"format":".1f","labelOverlap":false}},"y":{"datum":0,"type":"quantitative","axis":{"title":"Accuracy","values":[0,0.2,0.4,0.6,0.8,1],"format":".1f","labelOverlap":false}},"x2":{"datum":1},"y2":{"datum":1}}}]},
 {"width":23,"height":135,"data":{"name":"rightm"},"transform":[{"filter":{"field":"p","equal":"Focal Loss"}}],
  "layer":[
   {"mark":{"type":"area","orient":"horizontal","color":"#4C72B0","fillOpacity":0.25,"clip":true},"encoding":{"y":{"field":"a","type":"quantitative","scale":{"domain":[0,1]},"axis":{"values":[0.2,0.4,0.6,0.8],"grid":true,"gridColor":"white","labels":false,"title":null}},"x":{"field":"d","type":"quantitative","scale":{"domain":[0,1.02]},"axis":null},"order":{"field":"a","type":"quantitative"}}},
   {"mark":{"type":"line","color":"#4C72B0","strokeWidth":0.8,"strokeOpacity":0.75,"clip":true},"encoding":{"y":{"field":"a","type":"quantitative"},"x":{"field":"d","type":"quantitative"},"order":{"field":"a","type":"quantitative"}}}]},

 {"width":1,"height":39,"view":{"fill":null},"data":{"values":[]},"mark":"point"},
 {"width":1,"height":1,"view":{"fill":null},"data":{"values":[]},"mark":"point"},
 {"width":1,"height":1,"view":{"fill":null},"data":{"values":[]},"mark":"point"},
 {"width":1,"height":1,"view":{"fill":null},"data":{"values":[]},"mark":"point"},
 {"width":1,"height":1,"view":{"fill":null},"data":{"values":[]},"mark":"point"},
 {"width":1,"height":1,"view":{"fill":null},"data":{"values":[]},"mark":"point"},
 {"width":1,"height":1,"view":{"fill":null},"data":{"values":[]},"mark":"point"},
 {"width":1,"height":1,"view":{"fill":null},"data":{"values":[]},"mark":"point"},

 {"width":132,"height":23,"data":{"name":"topm"},"transform":[{"filter":{"field":"p","equal":"AdaFocal"}}],"mark":{"type":"area","color":"#4C72B0","fillOpacity":0.25,"clip":true,"line":{"color":"#4C72B0","strokeWidth":0.8,"strokeOpacity":0.75}},"encoding":{"x":{"field":"c","type":"quantitative","scale":{"domain":[0,1]},"axis":{"values":[0.2,0.4,0.6,0.8],"grid":true,"gridColor":"white","labels":false,"title":null}},"y":{"field":"d","type":"quantitative","scale":{"domain":[0,1.02]},"axis":null}}},
 {"width":1,"height":1,"view":{"fill":null},"data":{"values":[]},"mark":"point"},
 {"width":1,"height":1,"view":{"fill":null},"data":{"values":[]},"mark":"point"},
 {"width":132,"height":23,"data":{"name":"topm"},"transform":[{"filter":{"field":"p","equal":"ASLP"}}],"mark":{"type":"area","color":"#4C72B0","fillOpacity":0.25,"clip":true,"line":{"color":"#4C72B0","strokeWidth":0.8,"strokeOpacity":0.75}},"encoding":{"x":{"field":"c","type":"quantitative","scale":{"domain":[0,1]},"axis":{"values":[0.2,0.4,0.6,0.8],"grid":true,"gridColor":"white","labels":false,"title":null}},"y":{"field":"d","type":"quantitative","scale":{"domain":[0,1.02]},"axis":null}}},
 {"width":1,"height":1,"view":{"fill":null},"data":{"values":[]},"mark":"point"},
 {"width":1,"height":1,"view":{"fill":null},"data":{"values":[]},"mark":"point"},
 {"width":132,"height":23,"data":{"name":"topm"},"transform":[{"filter":{"field":"p","equal":"SCVRM"}}],"mark":{"type":"area","color":"#4C72B0","fillOpacity":0.25,"clip":true,"line":{"color":"#4C72B0","strokeWidth":0.8,"strokeOpacity":0.75}},"encoding":{"x":{"field":"c","type":"quantitative","scale":{"domain":[0,1]},"axis":{"values":[0.2,0.4,0.6,0.8],"grid":true,"gridColor":"white","labels":false,"title":null}},"y":{"field":"d","type":"quantitative","scale":{"domain":[0,1.02]},"axis":null}}},
 {"width":1,"height":1,"view":{"fill":null},"data":{"values":[]},"mark":"point"},

 {"width":132,"height":135,"title":{"text":"AdaFocal","orient":"bottom","frame":"group","anchor":"middle","fontSize":17,"font":"Liberation Sans","fontWeight":"normal","color":"#000000","offset":6},
  "layer":[
   {"data":{"name":"kde"},"transform":[{"filter":{"field":"p","equal":"AdaFocal"}}],"mark":{"type":"trail","clip":true},
    "encoding":{"x":{"field":"c","type":"quantitative","scale":{"domain":[0,1]},"axis":{"title":"Confidence","values":[0,0.2,0.4,0.6,0.8,1],"format":".1f","labelOverlap":false}},"y":{"field":"a","type":"quantitative","scale":{"domain":[0,1]},"axis":{"title":"Accuracy","values":[0,0.2,0.4,0.6,0.8,1],"format":".1f","labelOverlap":false}},"size":{"field":"w","type":"quantitative","scale":{"domain":[0,1],"range":[0,135]},"legend":null},"color":{"field":"l","type":"quantitative","scale":{"scheme":"yellowgreenblue","domain":[0,1]},"legend":null},"detail":{"field":"s","type":"nominal"},"order":{"field":"o","type":"quantitative"}}},
   {"data":{"values":[{}]},"mark":{"type":"rule","color":"#e07878","strokeWidth":0.8,"strokeDash":[1.2,1.2]},"encoding":{"x":{"datum":0,"type":"quantitative","axis":{"title":"Confidence","values":[0,0.2,0.4,0.6,0.8,1],"format":".1f","labelOverlap":false}},"y":{"datum":0,"type":"quantitative","axis":{"title":"Accuracy","values":[0,0.2,0.4,0.6,0.8,1],"format":".1f","labelOverlap":false}},"x2":{"datum":1},"y2":{"datum":1}}}]},
 {"width":23,"height":135,"data":{"name":"rightm"},"transform":[{"filter":{"field":"p","equal":"AdaFocal"}}],
  "layer":[
   {"mark":{"type":"area","orient":"horizontal","color":"#4C72B0","fillOpacity":0.25,"clip":true},"encoding":{"y":{"field":"a","type":"quantitative","scale":{"domain":[0,1]},"axis":{"values":[0.2,0.4,0.6,0.8],"grid":true,"gridColor":"white","labels":false,"title":null}},"x":{"field":"d","type":"quantitative","scale":{"domain":[0,1.02]},"axis":null},"order":{"field":"a","type":"quantitative"}}},
   {"mark":{"type":"line","color":"#4C72B0","strokeWidth":0.8,"strokeOpacity":0.75,"clip":true},"encoding":{"y":{"field":"a","type":"quantitative"},"x":{"field":"d","type":"quantitative"},"order":{"field":"a","type":"quantitative"}}}]},
 {"width":1,"height":1,"view":{"fill":null},"data":{"values":[]},"mark":"point"},
 {"width":132,"height":135,"title":{"text":"ASLP","orient":"bottom","frame":"group","anchor":"middle","fontSize":17,"font":"Liberation Sans","fontWeight":"normal","color":"#000000","offset":6},
  "layer":[
   {"data":{"name":"kde"},"transform":[{"filter":{"field":"p","equal":"ASLP"}}],"mark":{"type":"trail","clip":true},
    "encoding":{"x":{"field":"c","type":"quantitative","scale":{"domain":[0,1]},"axis":{"title":"Confidence","values":[0,0.2,0.4,0.6,0.8,1],"format":".1f","labelOverlap":false}},"y":{"field":"a","type":"quantitative","scale":{"domain":[0,1]},"axis":{"title":"Accuracy","values":[0,0.2,0.4,0.6,0.8,1],"format":".1f","labelOverlap":false}},"size":{"field":"w","type":"quantitative","scale":{"domain":[0,1],"range":[0,135]},"legend":null},"color":{"field":"l","type":"quantitative","scale":{"scheme":"yellowgreenblue","domain":[0,1]},"legend":null},"detail":{"field":"s","type":"nominal"},"order":{"field":"o","type":"quantitative"}}},
   {"data":{"values":[{}]},"mark":{"type":"rule","color":"#e07878","strokeWidth":0.8,"strokeDash":[1.2,1.2]},"encoding":{"x":{"datum":0,"type":"quantitative","axis":{"title":"Confidence","values":[0,0.2,0.4,0.6,0.8,1],"format":".1f","labelOverlap":false}},"y":{"datum":0,"type":"quantitative","axis":{"title":"Accuracy","values":[0,0.2,0.4,0.6,0.8,1],"format":".1f","labelOverlap":false}},"x2":{"datum":1},"y2":{"datum":1}}}]},
 {"width":23,"height":135,"data":{"name":"rightm"},"transform":[{"filter":{"field":"p","equal":"ASLP"}}],
  "layer":[
   {"mark":{"type":"area","orient":"horizontal","color":"#4C72B0","fillOpacity":0.25,"clip":true},"encoding":{"y":{"field":"a","type":"quantitative","scale":{"domain":[0,1]},"axis":{"values":[0.2,0.4,0.6,0.8],"grid":true,"gridColor":"white","labels":false,"title":null}},"x":{"field":"d","type":"quantitative","scale":{"domain":[0,1.02]},"axis":null},"order":{"field":"a","type":"quantitative"}}},
   {"mark":{"type":"line","color":"#4C72B0","strokeWidth":0.8,"strokeOpacity":0.75,"clip":true},"encoding":{"y":{"field":"a","type":"quantitative"},"x":{"field":"d","type":"quantitative"},"order":{"field":"a","type":"quantitative"}}}]},
 {"width":1,"height":1,"view":{"fill":null},"data":{"values":[]},"mark":"point"},
 {"width":132,"height":135,"title":{"text":"SCVRM","orient":"bottom","frame":"group","anchor":"middle","fontSize":17,"font":"Liberation Sans","fontWeight":"normal","color":"#000000","offset":6},
  "layer":[
   {"data":{"name":"kde"},"transform":[{"filter":{"field":"p","equal":"SCVRM"}}],"mark":{"type":"trail","clip":true},
    "encoding":{"x":{"field":"c","type":"quantitative","scale":{"domain":[0,1]},"axis":{"title":"Confidence","values":[0,0.2,0.4,0.6,0.8,1],"format":".1f","labelOverlap":false}},"y":{"field":"a","type":"quantitative","scale":{"domain":[0,1]},"axis":{"title":"Accuracy","values":[0,0.2,0.4,0.6,0.8,1],"format":".1f","labelOverlap":false}},"size":{"field":"w","type":"quantitative","scale":{"domain":[0,1],"range":[0,135]},"legend":null},"color":{"field":"l","type":"quantitative","scale":{"scheme":"yellowgreenblue","domain":[0,1]},"legend":null},"detail":{"field":"s","type":"nominal"},"order":{"field":"o","type":"quantitative"}}},
   {"data":{"values":[{}]},"mark":{"type":"rule","color":"#e07878","strokeWidth":0.8,"strokeDash":[1.2,1.2]},"encoding":{"x":{"datum":0,"type":"quantitative","axis":{"title":"Confidence","values":[0,0.2,0.4,0.6,0.8,1],"format":".1f","labelOverlap":false}},"y":{"datum":0,"type":"quantitative","axis":{"title":"Accuracy","values":[0,0.2,0.4,0.6,0.8,1],"format":".1f","labelOverlap":false}},"x2":{"datum":1},"y2":{"datum":1}}}]},
 {"width":23,"height":135,"data":{"name":"rightm"},"transform":[{"filter":{"field":"p","equal":"SCVRM"}}],
  "layer":[
   {"mark":{"type":"area","orient":"horizontal","color":"#4C72B0","fillOpacity":0.25,"clip":true},"encoding":{"y":{"field":"a","type":"quantitative","scale":{"domain":[0,1]},"axis":{"values":[0.2,0.4,0.6,0.8],"grid":true,"gridColor":"white","labels":false,"title":null}},"x":{"field":"d","type":"quantitative","scale":{"domain":[0,1.02]},"axis":null},"order":{"field":"a","type":"quantitative"}}},
   {"mark":{"type":"line","color":"#4C72B0","strokeWidth":0.8,"strokeOpacity":0.75,"clip":true},"encoding":{"y":{"field":"a","type":"quantitative"},"x":{"field":"d","type":"quantitative"},"order":{"field":"a","type":"quantitative"}}}]}
]
},
{
 "width":20,"height":626,
 "data":{"values":[{}]},
 "mark":{"type":"rect","color":{"gradient":"linear","x1":0,"y1":1,"x2":0,"y2":0,"stops":[
   {"offset":0,"color":"#ffffd9"},{"offset":0.125,"color":"#edf8b1"},{"offset":0.25,"color":"#c7e9b4"},{"offset":0.375,"color":"#7fcdbb"},{"offset":0.5,"color":"#41b6c4"},{"offset":0.625,"color":"#1d91c0"},{"offset":0.75,"color":"#225ea8"},{"offset":0.875,"color":"#253494"},{"offset":1,"color":"#081d58"}]}},
 "encoding":{
  "y":{"datum":0,"type":"quantitative","scale":{"domain":[0,1]},
   "axis":{"orient":"right","values":[0.04,0.96],"labelExpr":"datum.value > 0.5 ? 'High' : 'Low'","labelAngle":90,"labelAlign":"center","labelBaseline":"bottom","labelFontSize":13,"labelFont":"Liberation Sans","labelColor":"#000000","labelPadding":0,
    "title":"Joint Distribution Density","titleFont":"Liberation Sans","titleFontSize":12,"titleFontWeight":"normal","titleColor":"#000000","titleAngle":90,"titleBaseline":"bottom","titlePadding":-14}},
  "y2":{"datum":1}
 }
}
],
"spacing":6
}
